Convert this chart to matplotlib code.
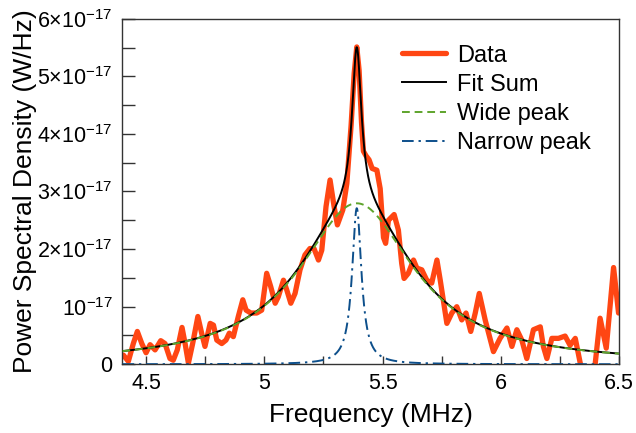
import numpy as np
import matplotlib
matplotlib.use("Agg")
import matplotlib.pyplot as plt
from matplotlib.ticker import FixedLocator

plt.rcParams['font.family'] = ['Liberation Sans', 'DejaVu Sans']
plt.rcParams['mathtext.fontset'] = 'custom'
plt.rcParams['mathtext.rm'] = 'Liberation Sans'
plt.rcParams['mathtext.it'] = 'Liberation Sans:italic'
plt.rcParams['mathtext.bf'] = 'Liberation Sans:bold'

# Measured data (frequency in MHz, PSD in units of 1e-17 W/Hz)
freq_mhz = [4.404, 4.425, 4.446, 4.463, 4.482, 4.500, 4.517, 4.538, 4.562, 4.580,
            4.601, 4.615, 4.632, 4.652, 4.665, 4.679, 4.697, 4.719, 4.735, 4.749,
            4.771, 4.785, 4.799, 4.820, 4.838, 4.852, 4.869, 4.890, 4.909, 4.923,
            4.943, 4.968, 4.989, 5.010, 5.027, 5.046, 5.059, 5.081, 5.095, 5.112,
            5.130, 5.151, 5.172, 5.193, 5.210, 5.229, 5.243, 5.261, 5.278, 5.295,
            5.309, 5.332, 5.349, 5.367, 5.380, 5.391, 5.401, 5.411, 5.419, 5.430,
            5.443, 5.456, 5.476, 5.490, 5.504, 5.513, 5.525, 5.549, 5.567, 5.581,
            5.591, 5.609, 5.631, 5.645, 5.666, 5.687, 5.708, 5.730, 5.744, 5.772,
            5.793, 5.814, 5.835, 5.853, 5.873, 5.892, 5.909, 5.934, 5.969, 5.997,
            6.026, 6.047, 6.068, 6.089, 6.110, 6.138, 6.167, 6.180, 6.195, 6.216,
            6.244, 6.272, 6.293, 6.315, 6.336, 6.365, 6.399, 6.420, 6.446, 6.477,
            6.498]
psd_data = [0.16, 0.05, 0.36, 0.57, 0.36, 0.20, 0.34, 0.25, 0.41, 0.36,
            0.10, 0.07, 0.25, 0.64, 0.36, 0.02, 0.36, 0.83, 0.54, 0.31,
            0.71, 0.68, 0.42, 0.36, 0.42, 0.54, 0.48, 0.83, 1.12, 0.94,
            0.89, 0.89, 0.94, 1.58, 1.35, 1.06, 1.17, 1.46, 1.29, 1.06,
            1.23, 1.64, 1.90, 2.01, 2.01, 1.81, 1.98, 2.74, 3.20, 2.74,
            2.42, 2.68, 3.14, 4.15, 5.05, 5.51, 5.10, 4.20, 3.70, 3.62,
            3.55, 3.40, 3.37, 3.05, 2.20, 2.10, 2.50, 2.60, 2.33, 1.75,
            1.49, 1.58, 1.81, 1.67, 1.64, 1.46, 1.41, 1.81, 1.46, 0.71,
            0.89, 1.00, 0.77, 0.89, 0.57, 0.89, 1.23, 0.77, 0.22, 0.45,
            0.63, 0.31, 0.60, 0.42, 0.10, 0.60, 0.65, 0.31, 0.10, 0.45,
            0.45, 0.49, 0.33, 0.45, 0.02, -0.30, 0.00, 0.80, 0.28, 1.68,
            0.89]

# Fitted Lorentzian parameters (units 1e-17 W/Hz, MHz)
wide_amp, wide_center, wide_hwhm = 2.795, 5.391, 0.295
narrow_amp, narrow_center, narrow_hwhm = 2.71, 5.391, 0.024
scale = 1e-17

fit_freq = np.linspace(4.4, 6.5, 2000)
wide = wide_amp / (1 + ((fit_freq - wide_center) / wide_hwhm) ** 2)
narrow = narrow_amp / (1 + ((fit_freq - narrow_center) / narrow_hwhm) ** 2)
fit_sum = wide + narrow

y_ticks = [0, 1, 2, 3, 4, 5, 6]
y_ticklabels = ['0', r'$10^{-17}$', r'$2{\times}10^{-17}$', r'$3{\times}10^{-17}$',
                r'$4{\times}10^{-17}$', r'$5{\times}10^{-17}$', r'$6{\times}10^{-17}$']
x_ticks = [4.5, 5.0, 5.5, 6.0, 6.5]
x_ticklabels = ['4.5', '5', '5.5', '6', '6.5']

fig = plt.figure(figsize=(6.36, 4.33), dpi=100)
ax = fig.add_axes([0.1925, 0.1587, 0.7808, 0.7981])

ax.plot(freq_mhz, np.array(psd_data) * scale, color='#ff4613', lw=3.8,
        solid_joinstyle='round', solid_capstyle='round', label='Data', zorder=2)
ax.plot(fit_freq, fit_sum * scale, color='black', lw=1.4, label='Fit Sum', zorder=3)
ax.plot(fit_freq, wide * scale, color='#5ea42c', lw=1.4, ls=(0, (4, 2.5)),
        label='Wide peak', zorder=4)
ax.plot(fit_freq, narrow * scale, color='#0d4f8b', lw=1.4, ls=(0, (6, 2.5, 1.2, 2.5)),
        label='Narrow peak', zorder=4)

ax.set_xlim(4.4, 6.5)
ax.set_ylim(0, 6e-17)
ax.set_xticks(x_ticks)
ax.set_xticklabels(x_ticklabels)
ax.xaxis.set_minor_locator(FixedLocator([4.75, 5.25, 5.75, 6.25]))
ax.set_yticks([v * scale for v in y_ticks])
ax.set_yticklabels(y_ticklabels)
ax.yaxis.set_minor_locator(FixedLocator([v * scale for v in [0.5, 1.5, 2.5, 3.5, 4.5, 5.5]]))

ax.tick_params(axis='both', which='both', direction='in', labelsize=15.5, color='#333333')
ax.tick_params(axis='y', which='both', length=9, width=1, pad=7)
ax.tick_params(axis='x', which='both', length=6, width=1, pad=6)
for s in ax.spines.values():
    s.set_color('#333333')
    s.set_linewidth(1.0)

ax.set_xlabel('Frequency (MHz)', fontsize=19, labelpad=7)
ax.set_ylabel('Power Spectral Density (W/Hz)', fontsize=19, labelpad=0)

ax.legend(loc='upper left', frameon=False, fontsize=17, handlelength=1.85,
          handletextpad=0.5, labelspacing=0.3, borderpad=0, borderaxespad=0,
          bbox_to_anchor=(0.563, 0.925))

fig.savefig('out.png', dpi=100)
